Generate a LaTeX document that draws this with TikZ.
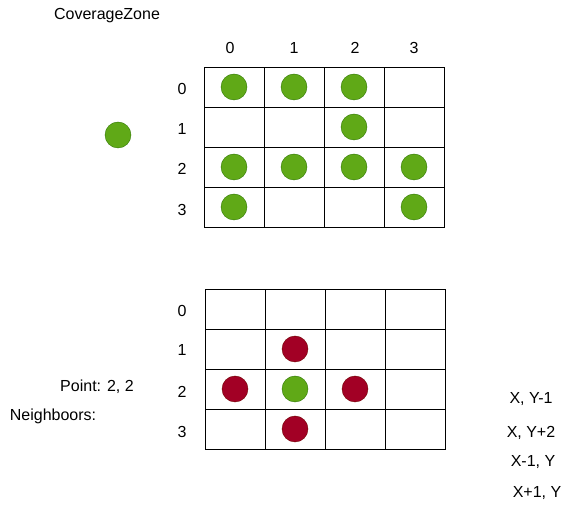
\documentclass[tikz,border=0pt]{standalone}
\usepackage{fontspec}
\setmainfont{Liberation Sans}
\usetikzlibrary{matrix,positioning}
\definecolor{dotgreen}{HTML}{60A917}
\definecolor{dotgreenline}{HTML}{2D7600}
\definecolor{dotred}{HTML}{A20025}
\definecolor{dotredline}{HTML}{6F0000}
\tikzset{cell/.style={draw, line width=0.8pt, minimum width=60pt,
           minimum height=40pt, inner sep=0pt},
         gdot/.style={circle, fill=dotgreen, draw=dotgreenline,
           minimum size=26pt, inner sep=0pt},
         rdot/.style={circle, fill=dotred, draw=dotredline,
           minimum size=26pt, inner sep=0pt},
         lbl/.style={font=\fontsize{16}{19}\selectfont, inner sep=0pt}}

\begin{document}
\begin{tikzpicture}[x=1pt,y=-1pt]
	  \useasboundingbox (0,0) rectangle (571,510);
	  \node[lbl] (title) at (107,16) {CoverageZone};
	  % upper grid
	  \matrix (top) [matrix of nodes, nodes in empty cells, nodes={cell},
	    column sep=-0.8pt, row sep=-0.8pt] at (324,147)
	    { & & & \\ & & & \\ & & & \\ & & & \\ };
	  \foreach \i/\x in {0/230,1/294,2/355,3/414}
	    \node[lbl] (tcol\i) at (\x,48) {\i};
	  \foreach \i/\y in {0/89,1/129,2/169,3/210}
	    \node[lbl] (trow\i) at (182,\y) {\i};
	  \foreach \r/\c in {1/1,1/2,1/3,2/3,3/1,3/2,3/3,3/4,4/1,4/4}
	    \node[gdot] (tg-\r-\c) at (top-\r-\c) {};
	  \node[gdot] (pt) at (118,135) {};
	  % lower grid
	  \matrix (bot) [matrix of nodes, nodes in empty cells, nodes={cell},
	    column sep=-0.8pt, row sep=-0.8pt] at (325,369)
	    { & & & \\ & & & \\ & & & \\ & & & \\ };
	  \foreach \i/\y in {0/311,1/350,2/392,3/432}
	    \node[lbl] (brow\i) at (182,\y) {\i};
	  \node[gdot] (bg-3-2) at (bot-3-2) {};
	  \foreach \r/\c in {2/2,3/1,3/3,4/2}
	    \node[rdot] (br-\r-\c) at (bot-\r-\c) {};
	  \node[lbl] (point) at (97,387) {Point: 2, 2};
	  \node[lbl] (nb) at (53,416) {Neighboors:};
	  \node[lbl] (n1) at (531,399) {X, Y-1};
	  \node[lbl] (n2) at (531,433) {X, Y+2};
	  \node[lbl] (n3) at (533,462) {X-1, Y};
	  \node[lbl] (n4) at (537,493) {X+1, Y};
	\end{tikzpicture}
\end{document}
